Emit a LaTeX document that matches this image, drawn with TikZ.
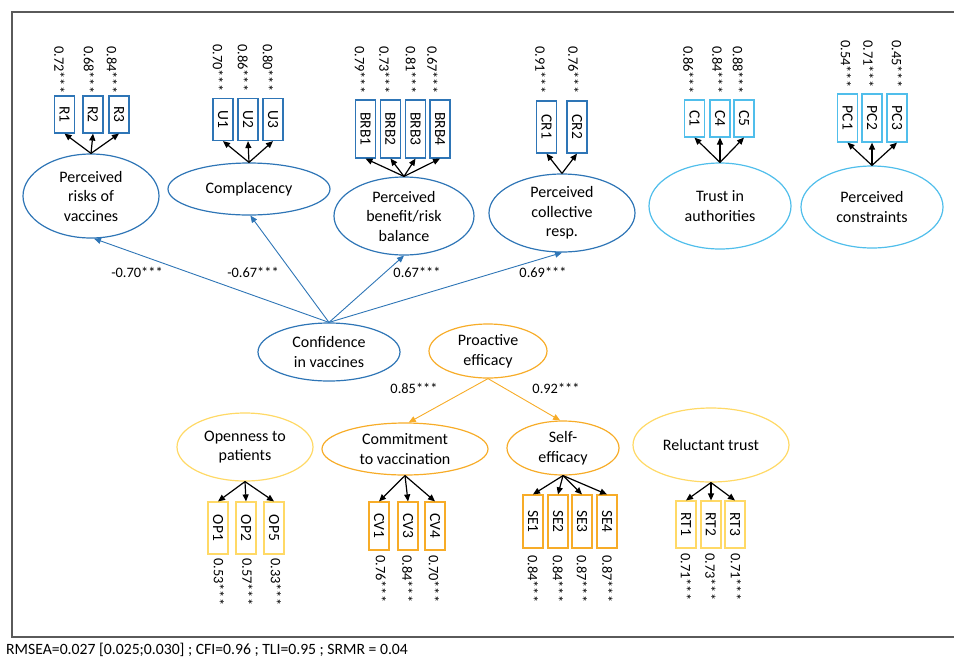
\documentclass[tikz,border=0pt]{standalone}
\usepackage{fontspec}
\setmainfont{Carlito}
\usepackage{graphicx}
\usetikzlibrary{shapes.geometric,arrows.meta}
\definecolor{cblue}{RGB}{46,117,182}
\definecolor{clblue}{RGB}{80,190,235}
\definecolor{corange}{RGB}{247,172,40}
\definecolor{cyellow}{RGB}{255,217,102}
\definecolor{cframe}{RGB}{90,90,90}
\tikzset{
  latent/.style={ellipse, draw, line width=1.2pt, inner sep=0pt, align=center,
    font=\fontsize{16}{19.5}\selectfont},
  item/.style={rectangle, draw, line width=1.2pt, inner sep=0pt, minimum width=20pt,
    font=\fontsize{15.5}{17}\selectfont},
  load/.style={inner sep=0pt, font=\fontsize{14.4}{16}\selectfont},
  coef/.style={inner sep=0pt, font=\fontsize{14.4}{16}\selectfont},
  blk/.style={-{Triangle[length=7pt,width=6pt]}, line width=1.2pt, black},
  path/.style={-{Triangle[length=7pt,width=6pt]}, line width=0.9pt},
}
\newcommand{\rt}[1]{\rotatebox{-90}{#1}}
\begin{document}
\begin{tikzpicture}[x=1pt,y=-1pt]
\useasboundingbox (0,0) rectangle (954,657);
% frame
\draw[cframe, line width=1.6pt] (958,12) -- (12,12) -- (12,637) -- (958,637);
\node[anchor=west, inner sep=0pt, font=\fontsize{15.7}{18}\selectfont] (fit) at (6,650) {RMSEA=0.027 [0.025;0.030] ; CFI=0.96 ; TLI=0.95 ; SRMR = 0.04};

% latent variables
\node[latent, cblue, minimum width=136pt, minimum height=84pt] (risk) at (91,196) {\color{black}Perceived\\\color{black}risks of\\\color{black}vaccines};
\node[latent, cblue, minimum width=162pt, minimum height=52pt] (comp) at (249,189) {\color{black}Complacency};
\node[latent, cblue, minimum width=140pt, minimum height=78pt] (brb) at (404,216) {\color{black}Perceived\\\color{black}benefit/risk\\\color{black}balance};
\node[latent, cblue, minimum width=146pt, minimum height=78pt] (cr) at (562,213) {\color{black}Perceived\\\color{black}collective\\\color{black}resp.};
\node[latent, clblue, minimum width=142pt, minimum height=86pt] (trust) at (720,206) {\color{black}Trust in\\\color{black}authorities};
\node[latent, clblue, minimum width=142pt, minimum height=82pt] (pcon) at (872,207) {\color{black}Perceived\\\color{black}constraints};
\node[latent, cblue, minimum width=142pt, minimum height=58pt] (conf) at (329,352) {\color{black}Confidence\\\color{black}in vaccines};
\node[latent, corange, minimum width=118pt, minimum height=54pt] (pro) at (488,351) {\color{black}Proactive\\\color{black}efficacy};
\node[latent, cyellow, minimum width=136pt, minimum height=68pt] (open) at (245,447) {\color{black}Openness to\\\color{black}patients};
\node[latent, corange, minimum width=166pt, minimum height=52pt] (commit) at (405,449) {\color{black}Commitment\\\color{black}to vaccination};
\node[latent, corange, minimum width=112pt, minimum height=54pt] (self) at (563,448) {\color{black}Self-\\\color{black}efficacy};
\node[latent, cyellow, minimum width=156pt, minimum height=74pt] (rel) at (711,445) {\color{black}Reluctant trust};

% top items
\foreach \n/\x/\l/\lx in {R1/64.5/0.72/59.5, R2/93/0.68/89, R3/119/0.84/112}
  {\node[item, cblue, minimum height=37pt] (\n) at (\x,114.5) {\color{black}\rt{\n}};
   \node[load, anchor=north] (l\n) at (\lx,46) {\rt{\l***}};
   \draw[blk] (risk.north) -- (\n.south);}
\foreach \n/\x/\l/\lx in {U1/223/0.70/218, U2/248/0.86/243, U3/273/0.80/268}
  {\node[item, cblue, minimum height=42pt] (\n) at (\x,119.5) {\color{black}\rt{\n}};
   \node[load, anchor=north] (l\n) at (\lx,44) {\rt{\l***}};
   \draw[blk] (comp.north) -- (\n.south);}
\foreach \n/\x/\l/\lx in {BRB1/365.5/0.79/360, BRB2/390.5/0.73/384.5, BRB3/415.5/0.81/411, BRB4/440/0.67/432.5}
  {\node[item, cblue, minimum height=58pt] (\n) at (\x,129) {\color{black}\rt{\n}};
   \node[load, anchor=north] (l\n) at (\lx,46) {\rt{\l***}};
   \draw[blk] (brb.north) -- (\n.south);}
\foreach \n/\x/\l/\lx in {CR1/546.5/0.91/540.5, CR2/577/0.76/573.5}
  {\node[item, cblue, minimum height=52pt] (\n) at (\x,127) {\color{black}\rt{\n}};
   \node[load, anchor=north] (l\n) at (\lx,46) {\rt{\l***}};
   \draw[blk] (cr.north) -- (\n.south);}
\foreach \n/\x/\l/\lx in {C1/694.5/0.86/688.5, C4/720/0.84/717.5, C5/744/0.88/738}
  {\node[item, clblue, minimum height=37pt] (\n) at (\x,118.5) {\color{black}\rt{\n}};
   \node[load, anchor=north] (l\n) at (\lx,46) {\rt{\l***}};
   \draw[blk] (trust.north) -- (\n.south);}
\foreach \n/\x/\l/\lx in {PC1/847.5/0.54/846, PC2/872/0.71/868.5, PC3/897/0.45/897}
  {\node[item, clblue, minimum height=48pt] (\n) at (\x,118) {\color{black}\rt{\n}};
   \node[load, anchor=north] (l\n) at (\lx,40) {\rt{\l***}};
   \draw[blk] (pcon.north) -- (\n.south);}

% bottom items
\foreach \n/\x/\l/\lx in {OP1/218/0.53/219, OP2/246/0.57/247.5, OP5/274/0.33/276}
  {\node[item, cyellow, minimum height=52pt] (\n) at (\x,528) {\color{black}\rt{\n}};
   \node[load, anchor=north] (l\n) at (\lx,558) {\rt{\l***}};
   \draw[blk] (open.south) -- (\n.north);}
\foreach \n/\x/\l/\lx in {CV1/379/0.76/381, CV3/408/0.84/407.5, CV4/435/0.70/434}
  {\node[item, corange, minimum height=48pt] (\n) at (\x,526) {\color{black}\rt{\n}};
   \node[load, anchor=north] (l\n) at (\lx,555) {\rt{\l***}};
   \draw[blk] (commit.south) -- (\n.north);}
\foreach \n/\x/\l/\lx in {SE1/533/0.84/533, SE2/558/0.84/558, SE3/582/0.87/582, SE4/607/0.87/607.5}
  {\node[item, corange, minimum height=53pt] (\n) at (\x,521.5) {\color{black}\rt{\n}};
   \node[load, anchor=north] (l\n) at (\lx,555) {\rt{\l***}};
   \draw[blk] (self.south) -- (\n.north);}
\foreach \n/\x/\l/\lx in {RT1/686/0.71/686, RT2/711/0.73/710.5, RT3/735/0.71/736}
  {\node[item, cyellow, minimum height=47pt] (\n) at (\x,524.5) {\color{black}\rt{\n}};
   \node[load, anchor=north] (l\n) at (\lx,553) {\rt{\l***}};
   \draw[blk] (rel.south) -- (\n.north);}

% structural paths
\draw[path, cblue] (conf.north) -- (risk.-86);
\draw[path, cblue] (conf.north) -- (comp.-87);
\draw[path, cblue] (conf.north) -- (brb.south);
\draw[path, cblue] (conf.north) -- (cr.south);
\draw[path, corange] (pro.south) -- (commit.82);
\draw[path, corange] (pro.south) -- (self.96);

\node[coef] (k1) at (137,272) {-0.70***};
\node[coef] (k2) at (253,272) {-0.67***};
\node[coef] (k3) at (417,272) {0.67***};
\node[coef] (k4) at (543,272) {0.69***};
\node[coef] (k5) at (414,388) {0.85***};
\node[coef] (k6) at (556,388) {0.92***};
\end{tikzpicture}
\end{document}
